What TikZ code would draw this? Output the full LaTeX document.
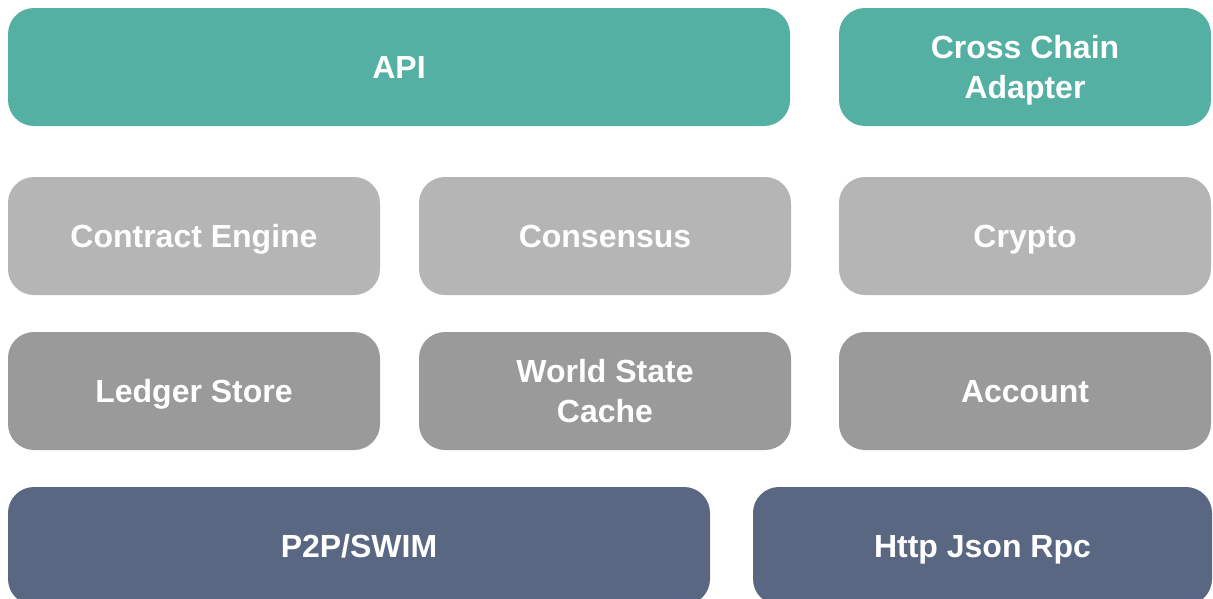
\documentclass[tikz,border=0pt]{standalone}
\usepackage{fontspec}
\setmainfont{Liberation Sans}
\definecolor{tealbox}{RGB}{85,176,164}
\definecolor{lightbox}{RGB}{181,181,181}
\definecolor{midbox}{RGB}{154,154,154}
\definecolor{slatebox}{RGB}{89,103,130}
\newcommand\boxstrut{\rule[-9pt]{0pt}{40.5pt}}
\tikzset{
  blk/.style={rounded corners=26pt, inner sep=0pt, text=white, align=center,
    font=\fontsize{32}{40.5}\selectfont\bfseries, minimum height=118pt},
  w372/.style={minimum width=372pt},
}
\begin{document}
\begin{tikzpicture}[x=1pt,y=-1pt]
\useasboundingbox (0,0) rectangle (1213,598);
% row 1
\node[blk, fill=tealbox, minimum width=782pt] (api) at (399,67) {\boxstrut API};
\node[blk, fill=tealbox, w372] (cca) at (1025,67) {\boxstrut Cross Chain\\\boxstrut Adapter};
% row 2
\node[blk, fill=lightbox, w372] (ce) at (194,236) {\boxstrut Contract Engine};
\node[blk, fill=lightbox, w372] (cons) at (605,236) {\boxstrut Consensus};
\node[blk, fill=lightbox, w372] (cry) at (1025,236) {\boxstrut Crypto};
% row 3
\node[blk, fill=midbox, w372] (ls) at (194,391) {\boxstrut Ledger Store};
\node[blk, fill=midbox, w372] (wsc) at (605,391) {\boxstrut World State\\\boxstrut Cache};
\node[blk, fill=midbox, w372] (acc) at (1025,391) {\boxstrut Account};
% row 4
\node[blk, fill=slatebox, minimum width=702pt] (p2p) at (359,546) {\boxstrut P2P/SWIM};
\node[blk, fill=slatebox, minimum width=459pt] (rpc) at (982.5,546) {\boxstrut Http Json Rpc};
\end{tikzpicture}
\end{document}
